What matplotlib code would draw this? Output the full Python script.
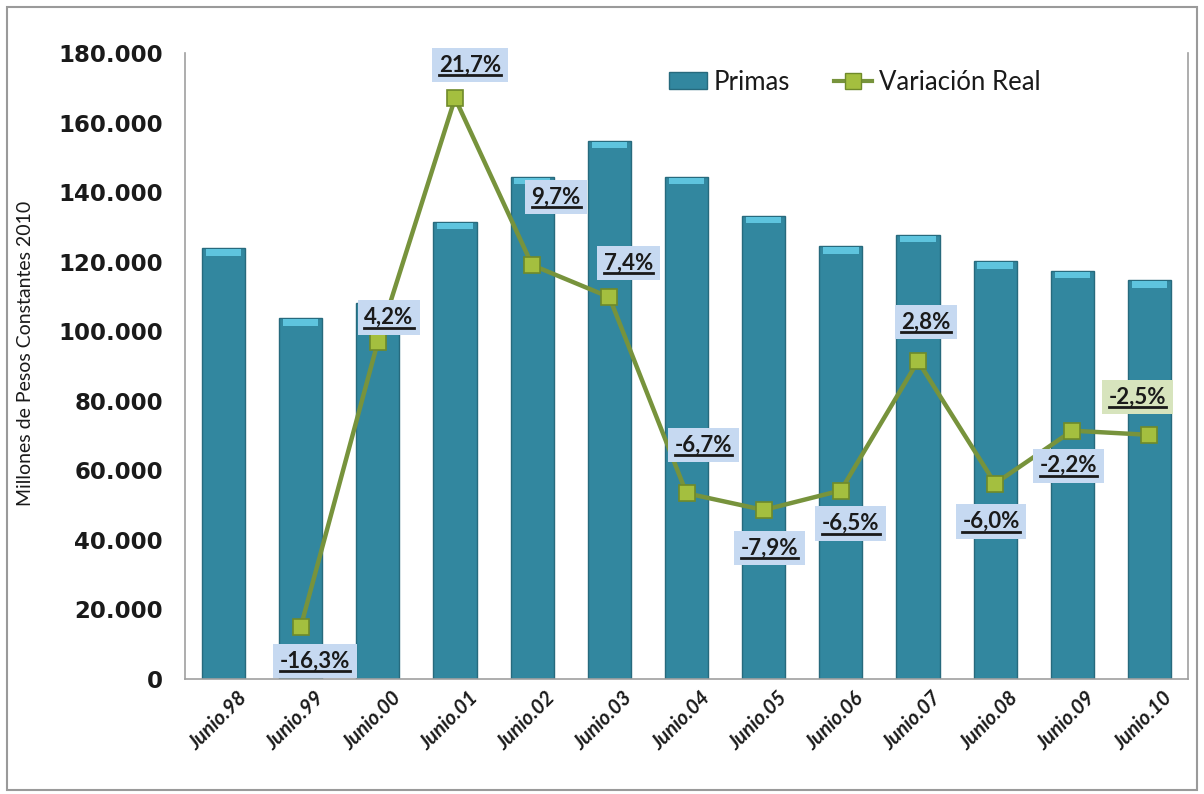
import matplotlib
matplotlib.use("Agg")
import matplotlib.pyplot as plt
from matplotlib.lines import Line2D
from matplotlib.patches import Rectangle
import numpy as np

categories = ["Junio.98", "Junio.99", "Junio.00", "Junio.01", "Junio.02", "Junio.03",
              "Junio.04", "Junio.05", "Junio.06", "Junio.07", "Junio.08", "Junio.09", "Junio.10"]
primas = [123800, 103700, 108100, 131500, 144300, 154800, 144400, 133100, 124400,
          127800, 120100, 117400, 114600]
variacion = [None, -16.3, 4.2, 21.7, 9.7, 7.4, -6.7, -7.9, -6.5, 2.8, -6.0, -2.2, -2.5]
yticks = [0, 20000, 40000, 60000, 80000, 100000, 120000, 140000, 160000, 180000]

# label offsets in pixels (dx, dy) from the point - styling only
label_offsets = [None, (14, -34), (11, 24), (15, 33), (24, 68), (19, 34), (17, 48),
                 (6, -38), (10, -33), (8, 39), (-4, -38), (-4, -35), (-12, 38)]

W, H = 1204, 794
fig = plt.figure(figsize=(W / 100, H / 100), dpi=100)
fig.patch.set_facecolor("white")
fig.add_artist(Rectangle((7 / W, 1 - 790 / H), (1197 - 7) / W, (790 - 7) / H,
                         transform=fig.transFigure, fill=False, ec="#9a9a9a", lw=1.5))

ax = fig.add_axes([185 / W, 1 - 679 / H, (1188 - 185) / W, (679 - 53) / H])
x = np.arange(len(categories))
bar_color = "#32879f"
ax.bar(x, primas, width=0.56, color=bar_color, edgecolor="#276a7d", lw=1.0, zorder=2)
cap = 1800
ax.bar(x, [cap] * len(x), bottom=[v - cap - 300 for v in primas], width=0.46,
       color="#5ec4de", edgecolor="none", zorder=3)

ax.set_xlim(-0.5, len(categories) - 0.5)
ax.set_ylim(0, 180000)
ax.set_yticks(yticks)
ax.set_yticklabels([f"{v:,}".replace(",", ".") for v in yticks],
                   fontfamily="DejaVu Sans", fontweight="bold", fontsize=16.5, color="#1a1a1a")
ax.set_xticks(x)
ax.set_xticklabels([])
for i, cat in enumerate(categories):
    ax.annotate(cat, (x[i], 0), xycoords=("data", "axes fraction"),
                xytext=(13 * 0.72, -9 * 0.72), textcoords="offset points",
                rotation=45, ha="right", va="top", rotation_mode="anchor",
                fontfamily="Lato", fontweight="bold", fontstyle="italic", fontsize=14.5,
                color="#1a1a1a", annotation_clip=False)
ax.tick_params(axis="y", length=0, pad=16)
ax.tick_params(axis="x", length=0)
for s in ["left", "bottom", "right"]:
    ax.spines[s].set_color("#a0a0a0")
    ax.spines[s].set_linewidth(1.2)
ax.spines["top"].set_visible(False)
ax.set_ylabel("Millones de Pesos Constantes 2010", fontfamily="Lato", fontsize=14, color="#1a1a1a")
ax.yaxis.set_label_coords(-0.151, 0.52)

ax2 = ax.twinx()
ax2.set_ylim(-20.05, 24.95)
ax2.axis("off")
xv = [i for i, v in enumerate(variacion) if v is not None]
yv = [v for v in variacion if v is not None]
ax2.plot(xv, yv, color="#77933c", lw=3.2, marker="s", markersize=11.5,
         markerfacecolor="#a4bf3f", markeredgecolor="#6f8a2a", markeredgewidth=1.2, zorder=5)

texts = []
for i, v in enumerate(variacion):
    if v is None:
        continue
    dx, dy = label_offsets[i]
    fc = "#d7e4bd" if i == len(variacion) - 1 else "#c6d9f1"
    t = ax2.annotate(f"{v:.1f}%".replace(".", ","), (i, v), xytext=(dx * 0.72, dy * 0.72),
                     textcoords="offset points", ha="center", va="center",
                     fontfamily="Lato", fontweight="bold", fontsize=16, color="#1a1a1a",
                     bbox=dict(boxstyle="square,pad=0.3", fc=fc, ec="none"), zorder=6)
    texts.append(t)

# legend
h1 = Rectangle((0, 0), 1, 1, fc=bar_color, ec="#276a7d")
h2 = Line2D([0], [0], color="#77933c", lw=3, marker="s", markersize=11,
            markerfacecolor="#a4bf3f", markeredgecolor="#6f8a2a")
leg = ax.legend([h1, h2], ["Primas", "Variación Real"], loc="upper left",
                bbox_to_anchor=((652 - 185) / (1188 - 185), 1.0), ncol=2, frameon=False,
                prop={"family": "Lato", "size": 18.5}, handlelength=1.5, handleheight=0.6,
                columnspacing=1.7, handletextpad=0.25, borderaxespad=0.25)
for t in leg.get_texts():
    t.set_color("#1a1a1a")

# underline labels
fig.canvas.draw()
r = fig.canvas.get_renderer()
for t in texts:
    bb = t.get_window_extent(r)
    _, _, d = r.get_text_width_height_descent(t.get_text(), t.get_fontproperties(), ismath=False)
    yline = bb.y0 + d - 3.0
    fig.add_artist(Line2D([bb.x0 / W, bb.x1 / W], [yline / H, yline / H],
                          transform=fig.transFigure, color="#1a1a1a", lw=2.0, zorder=7))

fig.savefig("out.png", dpi=100)
